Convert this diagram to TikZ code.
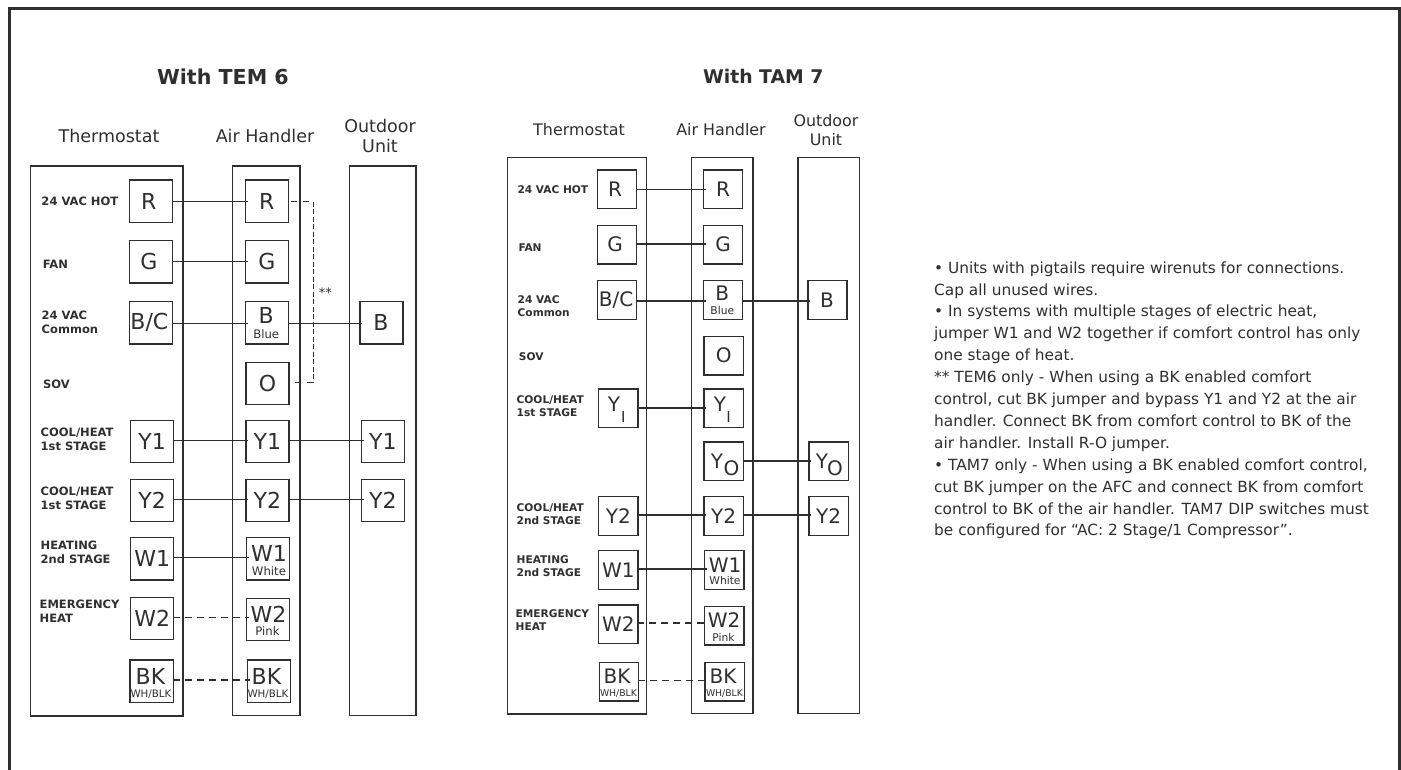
\documentclass[tikz,border=0pt]{standalone}
\usepackage{fontspec}
\setmainfont{DejaVu Sans}
\definecolor{ink}{HTML}{2F2F2F}
\tikzset{
  x=1pt,y=-1pt,
  every node/.style={text=ink,inner sep=0pt},
  frameline/.style={draw=ink,line width=3pt},
  unitbox/.style={draw=ink,line width=1.3pt},
  wire/.style={draw=ink,line width=1.3pt,shorten <=-1.5pt,shorten >=-3pt},
  dashwire/.style={draw=ink,line width=1.1pt,dash pattern=on 7pt off 5pt,shorten <=-1.5pt,shorten >=-3pt},
  jumperh/.style={draw=ink,line width=1.1pt,dash pattern=on 6pt off 6pt},
  jumperv/.style={draw=ink,line width=1.1pt,dash pattern=on 5pt off 2.5pt},
  term/.style={draw=ink,line width=1.3pt,rectangle,anchor=north west,inner sep=0pt,align=center},
  ttitle/.style={font=\bfseries\fontsize{20.6}{24}\selectfont},
  tbtitle/.style={font=\bfseries\fontsize{18.8}{22}\selectfont},
  head/.style={font=\fontsize{17.5}{21}\selectfont},
  hdb/.style={font=\fontsize{15.9}{19}\selectfont},
  lab/.style={font=\bfseries\fontsize{11.5}{14}\selectfont,anchor=west,align=left},
  labb/.style={font=\bfseries\fontsize{10.6}{13}\selectfont,anchor=west,align=left},
  big/.style={font=\fontsize{22}{24}\selectfont},
  bigb/.style={font=\fontsize{20}{22}\selectfont},
  small/.style={font=\fontsize{11.7}{13}\selectfont},
  smallb/.style={font=\fontsize{10.7}{12}\selectfont},
  tiny1/.style={font=\fontsize{10.3}{12}\selectfont},
  tiny2/.style={font=\fontsize{9.3}{11}\selectfont},
  note/.style={font=\fontsize{15.37}{21.9}\selectfont,anchor=north west,align=left},
}
% \term{name}{x1}{y1}{x2}{y2}{style}{text}
\newcommand{\term}[7]{\path let \n1={#4-#2},\n2={#5-#3} in node[term,#6,minimum width=\n1 pt,minimum height=\n2 pt] (#1) at (#2,#3) {#7};}
\newcommand{\wirexy}[4][wire]{\draw[#1] (#2 |- 0,#4) -- (#3 |- 0,#4);}
\usetikzlibrary{calc}
\begin{document}
\begin{tikzpicture}
\useasboundingbox (0,0) rectangle (1401,770);
\coordinate (fbl) at (9.5,772);
\coordinate (ftl) at (9.5,8.8);
\coordinate (ftr) at (1399,8.8);
\coordinate (fbr) at (1399,772);
\draw[frameline] (fbl) -- (ftl) -- (ftr) -- (fbr);

% ---- TEM 6 ----
\node[ttitle] (t1) at (223,76.7) {With TEM 6};
\node[head] (h1a) at (109,135.7) {Thermostat};
\node[head] (h1b) at (265,135.7) {Air Handler};
\node[head,align=center,font=\fontsize{17.5}{20.7}\selectfont] (h1c) at (380,136) {Outdoor\\Unit};
\draw[unitbox] (30.5,166) rectangle (183,716);
\draw[unitbox] (232.5,166) rectangle (300,715.5);
\draw[unitbox] (349.5,166) rectangle (416,715.5);

\node[lab] (l1) at (41.3,201.7) {24 VAC HOT};
\node[lab] (l2) at (42.7,264.7) {FAN};
\node[lab] (l3) at (41.5,322.7) {24 VAC\\Common};
\node[lab] (l4) at (43,384.7) {SOV};
\node[lab] (l5) at (40.5,439.5) {COOL/HEAT\\1st STAGE};
\node[lab] (l6) at (40.5,498.5) {COOL/HEAT\\1st STAGE};
\node[lab] (l7) at (40.5,552.5) {HEATING\\2nd STAGE};
\node[lab] (l8) at (39.5,611.5) {EMERGENCY\\HEAT};

\term{aR}{128.7}{179.3}{171.7}{222}{big}{R\hspace{4pt}}
\term{aG}{128.7}{240}{171.7}{282.3}{big}{G\hspace{4pt}}
\term{aC}{128.7}{300.7}{171.7}{343.3}{big}{B/C\hspace{3pt}}
\term{aY}{130}{419.7}{173}{462}{big}{Y1}
\term{aZ}{130}{478.7}{173}{521}{big}{Y2}
\term{aW}{130}{537}{173}{579.3}{big}{W1}
\term{aV}{130}{596.7}{173}{639}{big}{W2}
\term{aK}{129.3}{659.3}{172.7}{701.7}{}{}
\node[big] (aKt) at (150.5,676.5) {BK};
\node[tiny1] (aKs) at (151,694.5) {WH/BLK};

\term{bR}{244.7}{179.3}{287.7}{222}{big}{R}
\term{bG}{244.7}{240}{287.7}{282.3}{big}{G}
\term{bB}{244.7}{300.7}{287.7}{343.3}{}{}
\node[big] (bBt) at (266.2,315.5) {B};
\node[small] (bBs) at (266.2,334.5) {Blue};
\term{bO}{245.3}{361.7}{288.3}{404}{big}{O}
\term{bY}{245.3}{419.7}{288.3}{462}{big}{Y1}
\term{bZ}{245.3}{478.7}{288.3}{521}{big}{Y2}
\term{bW}{246}{537}{289}{579.3}{}{}
\node[big] (bWt) at (269,553.5) {W1};
\node[small] (bWs) at (269,571) {White};
\term{bV}{246}{597.7}{289}{640}{}{}
\node[big] (bVt) at (268.5,614.5) {W2};
\node[small] (bVs) at (267.5,631.5) {Pink};
\term{bK}{246.7}{659.3}{289.7}{701.7}{}{}
\node[big] (bKt) at (266.5,676.5) {BK};
\node[tiny1] (bKs) at (268,694.5) {WH/BLK};

\term{cB}{359.3}{300.7}{402.3}{343.3}{big}{B\hspace{1pt}}
\term{cY}{360.7}{419.7}{403.7}{462}{big}{Y1}
\term{cZ}{360.7}{478.7}{403.7}{521}{big}{Y2}

\wirexy{aR.east}{bR.west}{201.7}
\wirexy{aG.east}{bG.west}{261.3}
\wirexy{aC.east}{bB.west}{323.7}
\wirexy{bB.east}{cB.west}{323.7}
\wirexy{aY.east}{bY.west}{440.7}
\wirexy{bY.east}{cY.west}{440.7}
\wirexy{aZ.east}{bZ.west}{499.3}
\wirexy{bZ.east}{cZ.west}{499.3}
\wirexy{aW.east}{bW.west}{557.7}
\wirexy[dashwire]{aV.east}{bV.west}{617.3}
\wirexy[dashwire]{aK.east}{bK.west}{680}
\coordinate (jt) at (313.3,201.7);
\coordinate (jb) at (313.3,382.7);
\draw[jumperh] ([xshift=2pt]bR.east |- jt) -- (jt);
\draw[jumperv] (jt) -- (jb);
\draw[jumperh] ([xshift=5pt]bO.east |- jb) -- (jb);
\node[font=\fontsize{13}{15}\selectfont] (star) at (325.3,293) {**};

% ---- TAM 7 ----
\node[tbtitle] (t2) at (763.3,76.7) {With TAM 7};
\node[hdb] (h2a) at (579,130) {Thermostat};
\node[hdb] (h2b) at (721,130) {Air Handler};
\node[align=center,font=\fontsize{15.9}{19}\selectfont] (h2c) at (826,130) {Outdoor\\Unit};
\draw[unitbox] (507.3,157.3) rectangle (646.7,714);
\draw[unitbox] (691.7,157.3) rectangle (753,713.3);
\draw[unitbox] (798,157.3) rectangle (859.3,713.3);

\node[labb] (m1) at (517.3,190) {24 VAC HOT};
\node[labb] (m2) at (518.3,247.3) {FAN};
\node[labb] (m3) at (517.5,306) {24 VAC\\Common};
\node[labb] (m4) at (518.7,357) {SOV};
\node[labb] (m5) at (516.5,406.5) {COOL/HEAT\\1st STAGE};
\node[labb] (m6) at (516.5,514) {COOL/HEAT\\2nd STAGE};
\node[labb] (m7) at (516.5,566.5) {HEATING\\2nd STAGE};
\node[labb] (m8) at (515.5,620) {EMERGENCY\\HEAT};

\term{dR}{596.7}{169.3}{636}{208}{bigb}{R\hspace{4pt}}
\term{dG}{596.7}{224.7}{636}{263.3}{bigb}{G\hspace{4pt}}
\term{dC}{596.7}{280}{636}{318.7}{bigb}{B/C\hspace{2pt}}
\term{dY}{598}{388.3}{637.3}{427}{}{}
\node[bigb] (dYt) at (614,404) {Y};
\node[font=\fontsize{15}{17}\selectfont] (dYs) at (623.3,417) {I};
\term{dZ}{598}{495.7}{637.3}{534.7}{bigb}{Y2}
\term{dW}{598}{550}{637.3}{589}{bigb}{W1}
\term{dV}{598}{604.3}{637.3}{643}{bigb}{W2}
\term{dK}{598.7}{661.7}{637.7}{700.3}{}{}
\node[bigb] (dKt) at (617,676) {BK};
\node[tiny2] (dKs) at (618.5,694) {WH/BLK};

\term{eR}{702.7}{169.3}{742}{208}{bigb}{R}
\term{eG}{702.7}{224.7}{742}{263.3}{bigb}{G}
\term{eB}{702.7}{280}{742}{318.7}{}{}
\node[bigb] (eBt) at (722.3,293.5) {B};
\node[smallb] (eBs) at (722.3,311) {Blue};
\term{eO}{703.3}{335.7}{742.7}{374.3}{bigb}{O}
\term{eY}{703.3}{388.3}{742.7}{427}{}{}
\node[bigb] (eYt) at (720,404) {Y};
\node[font=\fontsize{15}{17}\selectfont] (eYs) at (728.5,417) {I};
\term{eP}{703.3}{441.3}{742.7}{480}{}{}
\node[bigb] (ePt) at (717,461) {Y};
\node[bigb] (ePs) at (731.5,468) {O};
\term{eZ}{703.3}{495.7}{742.7}{534.7}{bigb}{Y2}
\term{eW}{704}{550}{743.3}{589}{}{}
\node[bigb] (eWt) at (725,565) {W1};
\node[smallb] (eWs) at (725,581) {White};
\term{eV}{704}{605.7}{743.3}{644.3}{}{}
\node[bigb] (eVt) at (724,620) {W2};
\node[smallb] (eVs) at (723.5,637) {Pink};
\term{eK}{704.3}{661.7}{743.7}{700.3}{}{}
\node[bigb] (eKt) at (723,676) {BK};
\node[tiny2] (eKs) at (724.5,694) {WH/BLK};

\term{fB}{807.3}{280}{846.3}{318.7}{bigb}{B\hspace{1pt}}
\term{fP}{808.3}{441.3}{847.7}{480}{}{}
\node[bigb] (fPt) at (822,461) {Y};
\node[bigb] (fPs) at (835,468) {O};
\term{fZ}{808.3}{495.7}{847.7}{534.7}{bigb}{Y2}

\wirexy{dR.east}{eR.west}{189.7}
\wirexy{dG.east}{eG.west}{244}
\wirexy{dC.east}{eB.west}{301}
\wirexy{eB.east}{fB.west}{301}
\wirexy{dY.east}{eY.west}{408}
\wirexy{eP.east}{fP.west}{461}
\wirexy{dZ.east}{eZ.west}{515}
\wirexy{eZ.east}{fZ.west}{515}
\wirexy{dW.east}{eW.west}{569}
\wirexy[dashwire]{dV.east}{eV.west}{623}
\wirexy[dashwire]{dK.east}{eK.west}{680.7}

% ---- Notes ----
\node[note] (notes) at (934,261.3) {• Units with pigtails require wirenuts for connections.\\
Cap all unused wires.\\
• In systems with multiple stages of electric heat,\\
jumper W1 and W2 together if comfort control has only\\
one stage of heat.\\
** TEM6 only - When using a BK enabled comfort\\
control, cut BK jumper and bypass Y1 and Y2 at the air\\
handler. Connect BK from comfort control to BK of the\\
air handler. Install R-O jumper.\\
• TAM7 only - When using a BK enabled comfort control,\\
cut BK jumper on the AFC and connect BK from comfort\\
control to BK of the air handler. TAM7 DIP switches must\\
be configured for “AC: 2 Stage/1 Compressor”.};
\end{tikzpicture}
\end{document}
